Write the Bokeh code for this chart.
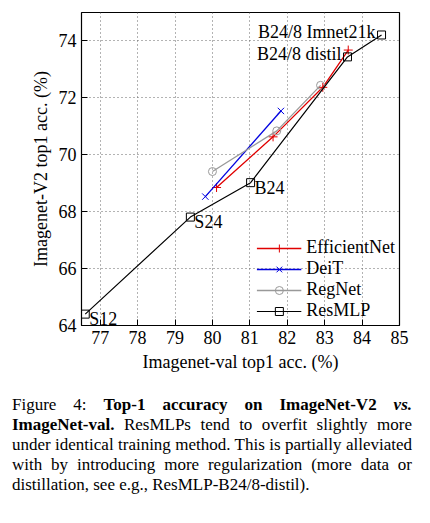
from bokeh.plotting import figure
from bokeh.models import Div, Legend, LegendItem, Label, FixedTicker
from bokeh.layouts import column
from bokeh.embed import file_html
from bokeh.resources import INLINE

# values
eff_x = [80.11, 81.62, 82.95, 83.63]
eff_y = [68.85, 70.63, 72.37, 73.68]
deit_x = [79.81, 81.83]
deit_y = [68.53, 71.54]
reg_x = [80.0, 81.72, 82.89]
reg_y = [69.41, 70.84, 72.44]
res_x = [76.60, 79.41, 81.02, 83.61, 84.52]
res_y = [64.40, 67.81, 69.02, 73.44, 74.21]
res_names = ["S12", "S24", "B24", "B24/8 distil", "B24/8 Imnet21k"]

FONT = "Liberation Serif"

p = figure(width=414, height=385, x_range=(76.5, 85), y_range=(64, 75),
           output_backend="svg", toolbar_location=None,
           min_border_left=81, min_border_right=15, min_border_top=12, min_border_bottom=60,
           x_axis_label="Imagenet-val top1 acc. (%)", y_axis_label="Imagenet-V2 top1 acc. (%)")
p.outline_line_color = "black"
p.outline_line_width = 1.2
p.xaxis.ticker = FixedTicker(ticks=list(range(77, 86)))
p.yaxis.ticker = FixedTicker(ticks=list(range(64, 76, 2)))
for ax in (p.xaxis, p.yaxis):
    ax.axis_line_color = None
    ax.major_tick_in = 6
    ax.major_tick_out = 0
    ax.minor_tick_line_color = None
    ax.major_label_text_font = FONT
    ax.major_label_text_font_size = "18px"
    ax.axis_label_text_font = FONT
    ax.axis_label_text_font_size = "18px"
    ax.axis_label_text_font_style = "normal"
    ax.major_label_text_color = "black"
    ax.axis_label_text_color = "black"
p.grid.grid_line_dash = "1 3"
p.grid.grid_line_color = "#666666"

r1 = p.line(eff_x, eff_y, color="#e00000", line_width=1.3)
s1 = p.scatter(eff_x, eff_y, marker="cross", size=9, color="#e00000")
r2 = p.line(deit_x, deit_y, color="#0000e0", line_width=1.3)
s2 = p.scatter(deit_x, deit_y, marker="x", size=9, color="#0000e0")
r3 = p.line(reg_x, reg_y, color="#999999", line_width=1.3)
s3 = p.scatter(reg_x, reg_y, marker="circle", size=8, line_color="#999999", fill_color=None)
r4 = p.line(res_x, res_y, color="black", line_width=1.2)
s4 = p.scatter(res_x, res_y, marker="square", size=8, line_color="black", fill_color=None)

for x, y, n in zip(res_x, res_y, res_names):
    right = n.startswith("B24/8")
    p.add_layout(Label(x=x, y=y, text=n, text_font=FONT, text_font_size="18px", text_color="black",
                       text_align="right" if right else "left", text_baseline="middle",
                       x_offset=-6 if right else 4, y_offset=3 if right else -5))

legend = Legend(items=[LegendItem(label="EfficientNet", renderers=[r1, s1]),
                       LegendItem(label="DeiT", renderers=[r2, s2]),
                       LegendItem(label="RegNet", renderers=[r3, s3]),
                       LegendItem(label="ResMLP", renderers=[r4, s4])],
                location="bottom_right", background_fill_alpha=0, border_line_color=None,
                label_text_font=FONT, label_text_font_size="18px", label_text_color="black",
                spacing=-4, glyph_width=45, margin=4)
p.add_layout(legend)

cap = Div(width=400, margin=(10, 0, 0, 12), text=(
    '<div style="font-family:\'Liberation Serif\';font-size:17px;line-height:20px;'
    'text-align:justify;color:black">Figure 4: <b>Top-1 accuracy on ImageNet-V2 <i>vs.</i> '
    'ImageNet-val.</b> ResMLPs tend to overfit slightly more under identical training method. '
    'This is partially alleviated with by introducing more regularization (more data or '
    'distillation, see e.g., ResMLP-B24/8-distil).</div>'))

open("out.html", "w").write(file_html(column(p, cap), INLINE))
